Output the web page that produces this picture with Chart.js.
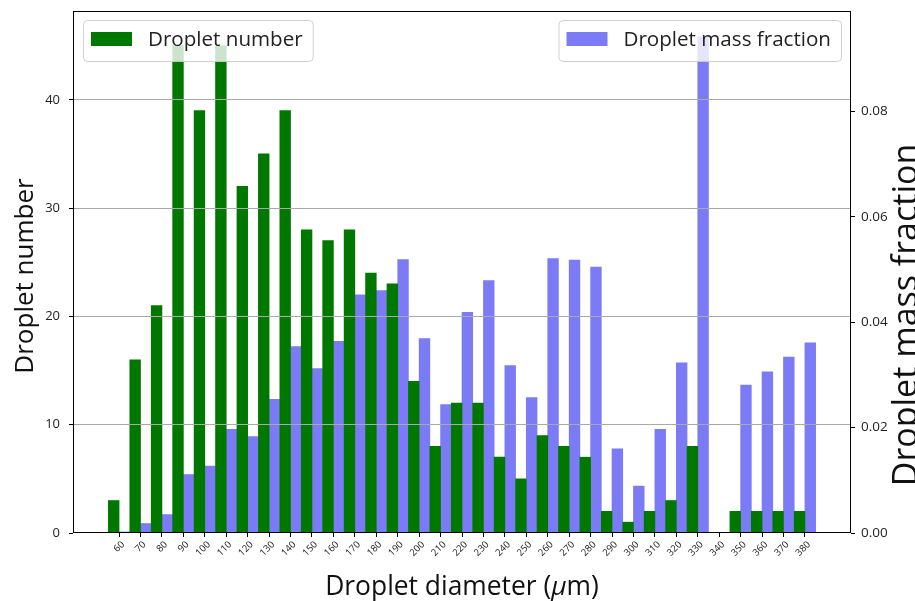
<!DOCTYPE html>
<html>
<head>
<meta charset="utf-8">
<script src="https://cdn.jsdelivr.net/npm/chart.js@4.4.0/dist/chart.umd.min.js"></script>
<style>
  html, body { margin: 0; padding: 0; background: #fff; }
</style>
</head>
<body>
<canvas id="myChart" width="915" height="601"></canvas>
<script>
// droplet size distribution, number and mass fraction per 10 um class
const diameters = [60, 70, 80, 90, 100, 110, 120, 130, 140, 150, 160, 170, 180, 190, 200, 210,
  220, 230, 240, 250, 260, 270, 280, 290, 300, 310, 320, 330, 340, 350, 360, 370, 380];
const dropletNumber = [3, 16, 21, 45, 39, 45, 32, 35, 39, 28, 27, 28, 24, 23, 14, 8,
  12, 12, 7, 5, 9, 8, 7, 2, 1, 2, 3, 8, 0, 2, 2, 2, 2];
const massFraction = [0.0002, 0.0018, 0.0035, 0.0111, 0.0127, 0.0197, 0.0183, 0.0254, 0.0354, 0.0312,
  0.0364, 0.0452, 0.0460, 0.0519, 0.0369, 0.0244, 0.0419, 0.0479, 0.0318, 0.0257, 0.0521, 0.0518,
  0.0505, 0.0160, 0.0089, 0.0197, 0.0323, 0.0942, 0, 0.0281, 0.0306, 0.0334, 0.0361];
const numberTicks = [0, 10, 20, 30, 40];
const massTicks = [0, 0.02, 0.04, 0.06, 0.08];

const family = "'Open Sans', 'Noto Sans', sans-serif";
const green = '#007800';
const blue = '#7b7bf5';

// y axes: fixed width, no extra room for half label heights
const fixWidth = w => s => { s.width = w; s.paddingTop = 0; s.paddingBottom = 0; };

// frame, legends and axis titles drawn on top of the chart
const extras = {
  id: 'extras',
  afterDraw(chart) {
    const ctx = chart.ctx;
    const a = chart.chartArea;
    ctx.save();

    // box around plot
    ctx.strokeStyle = '#000';
    ctx.lineWidth = 1;
    ctx.strokeRect(a.left + 0.5, a.top + 0.5, a.right - a.left - 1, a.bottom - a.top - 1);

    // legends, one per corner
    ctx.font = '20.6px ' + family;
    ctx.textBaseline = 'middle';
    const drawLegend = (ds, x, y, alignRight) => {
      const tw = ctx.measureText(ds.label).width;
      const w = 8 + 41 + 16 + tw + 10;
      const bx = alignRight ? x - w : x;
      ctx.beginPath();
      ctx.roundRect(bx + 0.5, y + 0.5, w, 41, 4);
      ctx.fillStyle = 'rgba(255,255,255,0.8)';
      ctx.fill();
      ctx.strokeStyle = 'rgba(204,204,204,0.9)';
      ctx.stroke();
      ctx.fillStyle = ds.backgroundColor;
      ctx.fillRect(bx + 8, y + 12, 41, 14);
      ctx.fillStyle = '#222';
      ctx.textAlign = 'left';
      ctx.fillText(ds.label, bx + 8 + 41 + 16, y + 20);
    };
    const sets = chart.data.datasets;
    drawLegend(sets[0], a.left + 10, a.top + 9, false);
    drawLegend(sets[1], a.right - 10, a.top + 9, true);

    // axis titles
    ctx.fillStyle = '#111';
    ctx.textAlign = 'center';
    ctx.textBaseline = 'alphabetic';
    ctx.font = '26px ' + family;
    ctx.save();
    ctx.translate(33, 276);
    ctx.rotate(-Math.PI / 2);
    ctx.fillText('Droplet number', 0, 0);
    ctx.restore();

    ctx.save();
    ctx.font = '34px ' + family;
    ctx.translate(917, 315);
    ctx.rotate(-Math.PI / 2);
    ctx.fillText('Droplet mass fraction', 0, 0);
    ctx.restore();

    // x title with italic mu
    const parts = [['Droplet diameter (', ''], ['\u03bc', 'italic '], ['m)', '']];
    let total = 0;
    parts.forEach(p => { ctx.font = p[1] + '26.4px ' + family; total += ctx.measureText(p[0]).width; });
    let x = (a.left + a.right) / 2 - total / 2;
    ctx.textAlign = 'left';
    parts.forEach(p => {
      ctx.font = p[1] + '26.4px ' + family;
      ctx.fillText(p[0], x, 595);
      x += ctx.measureText(p[0]).width;
    });
    ctx.restore();
  }
};

new Chart(document.getElementById('myChart'), {
  type: 'bar',
  data: {
    datasets: [
      {
        label: 'Droplet number',
        data: diameters.map((d, i) => ({ x: d, y: dropletNumber[i] })),
        backgroundColor: green,
        borderWidth: 0,
        yAxisID: 'yNum',
        categoryPercentage: 1,
        barPercentage: 1
      },
      {
        label: 'Droplet mass fraction',
        data: diameters.map((d, i) => ({ x: d, y: massFraction[i] })),
        backgroundColor: blue,
        borderWidth: 0,
        yAxisID: 'yMass',
        categoryPercentage: 1,
        barPercentage: 1
      }
    ]
  },
  options: {
    responsive: false,
    animation: false,
    layout: { padding: { top: 11 } },
    plugins: { legend: { display: false }, tooltip: { enabled: false } },
    scales: {
      x: {
        type: 'linear',
        min: 38.5,
        max: 401.5,
        offset: false,
        afterBuildTicks: s => { s.ticks = diameters.map(v => ({ value: v })); },
        afterFit: s => { s.height = 68; },
        border: { display: false },
        grid: { offset: false, drawOnChartArea: false, tickLength: 4, tickColor: '#000' },
        ticks: {
          autoSkip: false,
          minRotation: 45,
          maxRotation: 45,
          labelOffset: 4,
          padding: 2,
          color: '#1a1a1a',
          font: { family: family, size: 9.5 },
          callback: v => String(v)
        }
      },
      yNum: {
        position: 'left',
        min: 0,
        max: 48.2,
        afterBuildTicks: s => { s.ticks = numberTicks.map(v => ({ value: v })); },
        afterFit: fixWidth(73),
        border: { display: false },
        grid: {
          z: 1,
          color: c => (c.tick && c.tick.value === 0 ? 'rgba(0,0,0,0)' : '#aaaaaa'),
          tickColor: '#000',
          tickLength: 4
        },
        ticks: { padding: 9, color: '#222', font: { family: family, size: 13 }, callback: v => String(v) }
      },
      yMass: {
        position: 'right',
        min: 0,
        max: 0.0991,
        afterBuildTicks: s => { s.ticks = massTicks.map(v => ({ value: v })); },
        afterFit: fixWidth(64),
        border: { display: false },
        grid: { drawOnChartArea: false, tickColor: '#000', tickLength: 4 },
        ticks: { padding: 6, color: '#222', font: { family: family, size: 13.5 }, callback: v => v.toFixed(2) }
      }
    }
  },
  plugins: [extras]
});
</script>
</body>
</html>
